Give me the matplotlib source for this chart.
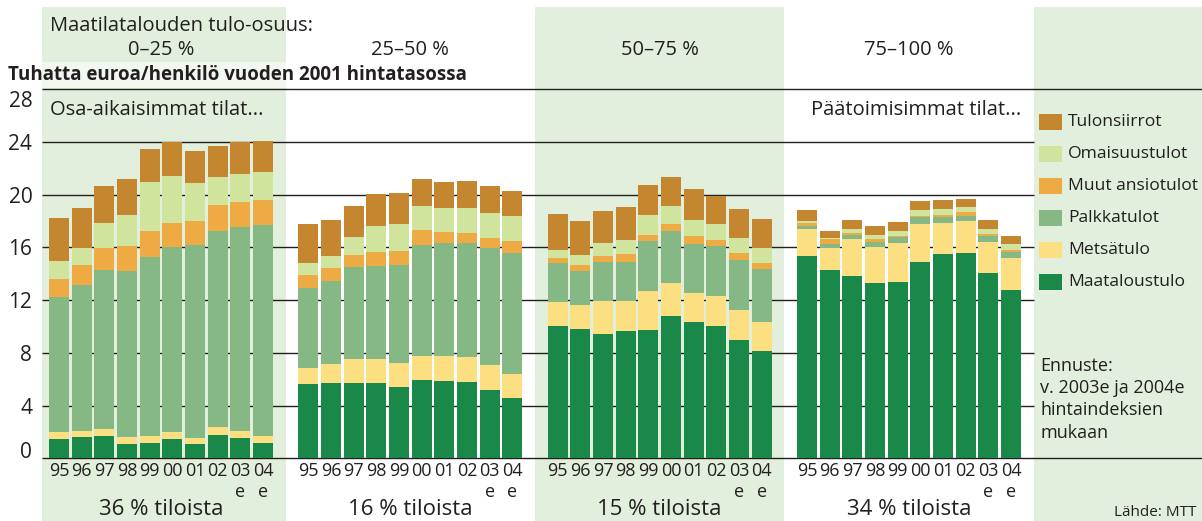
import matplotlib
matplotlib.use("Agg")
import matplotlib.pyplot as plt
from matplotlib.patches import Rectangle
import matplotlib.transforms as mtransforms
import numpy as np

plt.rcParams['font.family'] = ['Open Sans', 'DejaVu Sans']

# --- data -------------------------------------------------------------
years = ["95", "96", "97", "98", "99", "00", "01", "02", "03", "04"]
forecast = ["", "", "", "", "", "", "", "", "e", "e"]

series_names = ["Maataloustulo", "Metsätulo", "Palkkatulot",
                "Muut ansiotulot", "Omaisuustulot", "Tulonsiirrot"]

group_shares = ["0–25 %", "25–50 %", "50–75 %", "75–100 %"]
group_farms = ["36 % tiloista", "16 % tiloista", "15 % tiloista", "34 % tiloista"]

# thousand euro per person, 2001 prices; one list per group, components
# in the order of series_names
g1_maatalous = [1.47, 1.62, 1.69, 1.09, 1.16, 1.47, 1.09, 1.77, 1.54, 1.16]
g1_metsa     = [0.53, 0.45, 0.54, 0.53, 0.53, 0.53, 0.45, 0.61, 0.53, 0.53]
g1_palkka    = [10.24, 11.08, 12.06, 12.59, 13.59, 14.03, 14.65, 14.87, 15.48, 16.01]
g1_muut      = [1.36, 1.52, 1.67, 1.90, 1.97, 1.83, 1.81, 1.97, 1.90, 1.90]
g1_omaisuus  = [1.37, 1.29, 1.90, 2.35, 3.72, 3.56, 2.89, 2.13, 2.12, 2.12]
g1_siirrot   = [3.29, 3.03, 2.80, 2.73, 2.50, 2.56, 2.43, 2.35, 2.41, 2.36]

g2_maatalous = [5.64, 5.72, 5.72, 5.72, 5.41, 5.94, 5.87, 5.79, 5.18, 4.58]
g2_metsa     = [1.21, 1.44, 1.82, 1.82, 1.82, 1.82, 1.89, 1.90, 1.90, 1.82]
g2_palkka    = [6.07, 6.29, 6.98, 7.05, 7.44, 8.43, 8.58, 8.65, 8.88, 9.18]
g2_muut      = [0.99, 0.99, 0.91, 1.07, 1.06, 1.13, 0.83, 0.76, 0.76, 0.91]
g2_omaisuus  = [0.91, 0.91, 1.36, 1.97, 2.05, 1.83, 1.82, 1.89, 1.89, 1.90]
g2_siirrot   = [2.96, 2.73, 2.36, 2.43, 2.35, 2.04, 1.98, 2.05, 2.05, 1.89]

g3_maatalous = [10.04, 9.81, 9.43, 9.66, 9.74, 10.80, 10.34, 10.04, 8.98, 8.14]
g3_metsa     = [1.82, 1.82, 2.51, 2.28, 2.96, 2.50, 2.20, 2.28, 2.27, 2.20]
g3_palkka    = [2.96, 2.58, 2.96, 2.96, 3.79, 3.95, 3.72, 3.79, 3.80, 4.03]
g3_muut      = [0.38, 0.46, 0.45, 0.60, 0.45, 0.53, 0.61, 0.46, 0.53, 0.45]
g3_omaisuus  = [0.61, 0.76, 0.99, 1.07, 1.52, 1.37, 1.21, 1.21, 1.14, 1.14]
g3_siirrot   = [2.73, 2.58, 2.43, 2.50, 2.28, 2.20, 2.35, 2.12, 2.20, 2.20]

g4_maatalous = [15.35, 14.29, 13.83, 13.30, 13.38, 14.90, 15.50, 15.58, 14.06, 12.77]
g4_metsa     = [2.05, 1.67, 2.81, 2.73, 2.96, 2.88, 2.36, 2.43, 2.35, 2.43]
g4_palkka    = [0.23, 0.30, 0.30, 0.38, 0.45, 0.53, 0.45, 0.38, 0.46, 0.46]
g4_muut      = [0.23, 0.38, 0.16, 0.23, 0.08, 0.08, 0.15, 0.30, 0.15, 0.15]
g4_omaisuus  = [0.15, 0.08, 0.30, 0.30, 0.38, 0.45, 0.46, 0.38, 0.38, 0.45]
g4_siirrot   = [0.83, 0.53, 0.68, 0.69, 0.68, 0.68, 0.68, 0.61, 0.68, 0.61]

groups = [
    [g1_maatalous, g1_metsa, g1_palkka, g1_muut, g1_omaisuus, g1_siirrot],
    [g2_maatalous, g2_metsa, g2_palkka, g2_muut, g2_omaisuus, g2_siirrot],
    [g3_maatalous, g3_metsa, g3_palkka, g3_muut, g3_omaisuus, g3_siirrot],
    [g4_maatalous, g4_metsa, g4_palkka, g4_muut, g4_omaisuus, g4_siirrot],
]

yticks = [0, 4, 8, 12, 16, 20, 24, 28]

# --- styling ----------------------------------------------------------
colors = ["#1a8848", "#fcdf80", "#86b886", "#efab43", "#d1e49d", "#c4872f"]
band_color = "#e3efdd"
text_color = "#231f20"
line_color = "#231f20"

W, H = 1202, 521
fig = plt.figure(figsize=(W / 100, H / 100), dpi=100)
ax = fig.add_axes([42 / W, 0, 1 - 42 / W, 1])

stride = len(years) + 1          # slots per group (bars + gap)
bar_w = 0.88
x_left, x_right = -0.75, 50.42
y_bottom, y_top = -4.757, 34.775
ax.set_xlim(x_left, x_right)
ax.set_ylim(y_bottom, y_top)
for s in ax.spines.values():
    s.set_visible(False)
ax.set_xticks([])

# shaded background bands: groups 1 and 3 and the legend column
band_top = 1 - 7 / H
for g in (0, 2, 4):
    ax.axvspan(g * stride - 1, g * stride + stride - 1, ymin=0, ymax=band_top,
               color=band_color, lw=0, zorder=0)

# gridlines
grid_end = 4 * stride - 1
ax.hlines(yticks[1:-1], x_left, grid_end, color=line_color, lw=1.0, zorder=1)
ax.hlines([yticks[0], yticks[-1]], x_left, x_right, color=line_color, lw=1.0, zorder=1)

ax.set_yticks(yticks)
ax.set_yticklabels([str(v) for v in yticks])
ax.tick_params(axis='y', length=0, pad=7, labelsize=15, labelcolor=text_color)
ylabels = ax.get_yticklabels()
# lowest label sits on its line, the top one just below its line
ylabels[0].set_va('baseline')
ylabels[-1].set_va('top')
ylabels[-1].set_transform(ylabels[-1].get_transform() +
                          mtransforms.ScaledTranslation(0, -2 / 100, fig.dpi_scale_trans))

# stacked bars
for g, comps in enumerate(groups):
    xs = g * stride + np.arange(len(years))
    bottom = np.zeros(len(years))
    for vals, col in zip(comps, colors):
        ax.bar(xs, vals, bottom=bottom, width=bar_w, color=col, lw=0, zorder=2)
        bottom = bottom + np.array(vals)
    for x, yr, fc in zip(xs, years, forecast):
        ax.text(x, -0.3, yr, ha='center', va='top', fontsize=13,
                color=text_color)
        if fc:
            ax.text(x, -1.85, fc, ha='center', va='top', fontsize=13,
                    color=text_color)
    cx = xs.mean()
    ax.text(cx, -4.3, group_farms[g], ha='center', va='baseline',
            fontsize=16, color=text_color)
    ax.text(cx, 28 + (89.3 - 55) / 13.18, group_shares[g], ha='center',
            va='baseline', fontsize=14.5, color=text_color)

def px(x, y):
    return x / W, 1 - y / H

fig.text(*px(50, 31), "Maatilatalouden tulo-osuus:", fontsize=14.5,
         color=text_color, va='baseline')
fig.text(*px(8, 80), "Tuhatta euroa/henkilö vuoden 2001 hintatasossa",
         fontsize=13.5, fontweight='bold', color=text_color, va='baseline',
         bbox=dict(boxstyle='square,pad=0.15', fc='white', ec='none', alpha=0.55))
fig.text(*px(50, 115), "Osa-aikaisimmat tilat...", fontsize=14.5,
         color=text_color, va='baseline')
fig.text(*px(1021, 115), "Päätoimisimmat tilat...", fontsize=14.5,
         color=text_color, va='baseline', ha='right')

# legend, top entry first
legend_rows = list(zip(series_names, colors))[::-1]
for i, (name, col) in enumerate(legend_rows):
    yc = 122 + i * 32
    fig.patches.append(Rectangle(px(1039, yc + 8), 23 / W, 16 / H,
                                 transform=fig.transFigure, color=col, lw=0))
    fig.text(*px(1068, yc), name, fontsize=12.6, color=text_color, va='center')

fig.text(*px(1040, 357), "Ennuste:\nv. 2003e ja 2004e\nhintaindeksien\nmukaan",
         fontsize=13, color=text_color, va='top', linespacing=1.3)
fig.text(*px(1196, 516), "Lähde: MTT", fontsize=11, color=text_color,
         ha='right', va='baseline')

fig.savefig("out.png", dpi=100)
